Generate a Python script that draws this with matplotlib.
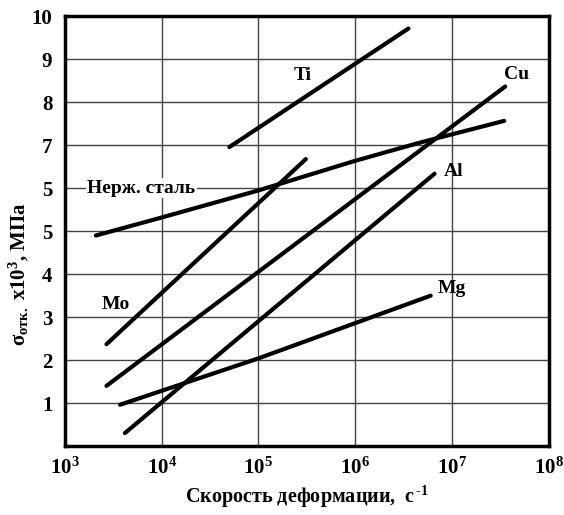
import numpy as np
import matplotlib
matplotlib.use('Agg')
from matplotlib import pyplot as plt

plt.rcParams['font.family'] = ['Liberation Serif', 'DejaVu Serif']
plt.rcParams['font.weight'] = 'bold'
plt.rcParams['mathtext.fontset'] = 'custom'
plt.rcParams['mathtext.rm'] = 'Liberation Serif:bold'
plt.rcParams['mathtext.bf'] = 'Liberation Serif:bold'
plt.rcParams['mathtext.it'] = 'Liberation Serif:bold'

# log10 of strain rate and stress (x10^3 MPa)
ti_x = [4.70, 6.55]
ti_y = [6.96, 9.72]
cu_x = [3.43, 7.55]
cu_y = [1.40, 8.37]
steel_x = [3.32, 4.0, 5.0, 6.0, 6.68, 7.54]
steel_y = [4.90, 5.32, 5.95, 6.64, 7.07, 7.57]
mo_x = [3.43, 5.49]
mo_y = [2.37, 6.68]
al_x = [3.62, 6.82]
al_y = [0.30, 6.34]
mg_x = [3.57, 5.0, 6.78]
mg_y = [0.96, 2.04, 3.50]

y_ticks = [1, 2, 3, 4, 5, 6, 7, 8, 9, 10]
y_ticklabels = ['1', '2', '3', '4', '5', '5', '7', '8', '9', '10']
x_decades = [3, 4, 5, 6, 7, 8]

fig = plt.figure(figsize=(5.64, 5.15), dpi=100)
ax = fig.add_axes([0.115, 0.134, 0.858, 0.834])

lines = [(ti_x, ti_y), (cu_x, cu_y), (steel_x, steel_y),
         (mo_x, mo_y), (al_x, al_y), (mg_x, mg_y)]
for xs, ys in lines:
    ax.plot(10 ** np.array(xs), ys, color='black', lw=3,
            solid_capstyle='round', zorder=3)

ax.set_xscale('log')
ax.set_xlim(1e3, 1e8)
ax.set_ylim(0, 10)
ax.set_xticks([10.0 ** d for d in x_decades])
ax.set_xticklabels([r'$10^{%d}$' % d for d in x_decades])
ax.xaxis.set_minor_locator(matplotlib.ticker.NullLocator())
ax.set_yticks(y_ticks)
ax.set_yticklabels(y_ticklabels)
ax.tick_params(axis='both', length=0, labelsize=15)
ax.tick_params(axis='x', pad=8)
ax.tick_params(axis='y', pad=9)
ax.grid(True, color='#444444', lw=1.0, zorder=1)
for s in ax.spines.values():
    s.set_linewidth(2.5)

ax.text(10 ** 5.46, 8.62, 'Ti', fontsize=14, fontweight='bold', ha='center', va='center')
ax.text(10 ** 7.67, 8.64, 'Cu', fontsize=14, fontweight='bold', ha='center', va='center')
ax.text(10 ** 7.02, 6.38, 'Al', fontsize=14, fontweight='bold', ha='center', va='center')
ax.text(10 ** 7.0, 3.66, 'Mg', fontsize=14, fontweight='bold', ha='center', va='center')
ax.text(10 ** 3.53, 3.30, 'Mo', fontsize=14, fontweight='bold', ha='center', va='center')
ax.text(10 ** 3.79, 6.0, 'Нерж. сталь', fontsize=14, fontweight='bold',
        ha='center', va='center', zorder=4,
        bbox=dict(facecolor='white', edgecolor='none', pad=1))

ax.set_xlabel(r'Скорость деформации,  с$^{\,\text{-}1}$', fontsize=14.5,
              fontweight='bold', labelpad=4)
ax.set_ylabel(r'$\sigma_{\rm отк.}$ х10$^3$, МПа', fontsize=15,
              fontweight='bold')
ax.yaxis.set_label_coords(-0.07, 0.40)

fig.savefig('out.png', dpi=100)
